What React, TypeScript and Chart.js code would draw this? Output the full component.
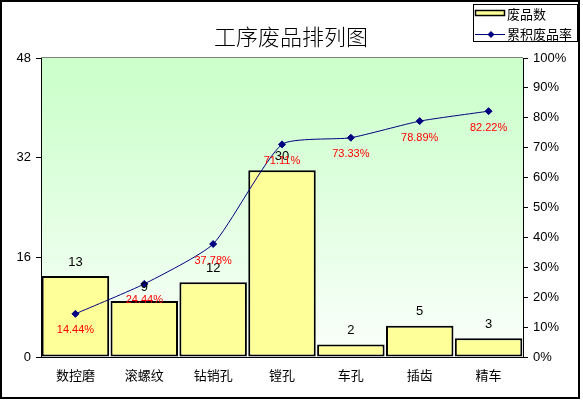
import React, { useEffect, useRef } from "react";
import { Chart, registerables } from "chart.js";

Chart.register(...registerables);

const titleText = "工序废品排列图";
const categories = ["数控磨", "滚螺纹", "钻销孔", "镗孔", "车孔", "插齿", "精车"];
const defectCounts = [13, 9, 12, 30, 2, 5, 3];
const cumulativePct = [14.44, 24.44, 37.78, 71.11, 73.33, 78.89, 82.22];
const leftAxisMax = 48;
const leftAxisStep = 16;
const rightAxisMax = 100;
const rightAxisStep = 10;
const legendLabels = ["废品数", "累积废品率"];

const CJK = '"Noto Sans CJK SC", "Noto Sans", sans-serif';
const LAT = '"Liberation Sans", Arial, sans-serif';

const decorPlugin = {
  id: "decor",
  beforeDraw(chart: any) {
    const { ctx, chartArea: a, width, height } = chart;
    ctx.save();
    ctx.fillStyle = "#ffffff";
    ctx.fillRect(0, 0, width, height);
    const g = ctx.createLinearGradient(0, a.top, 0, a.bottom);
    g.addColorStop(0, "#ccffcc");
    g.addColorStop(0.08, "#ccffcc");
    g.addColorStop(1, "#fbfffb");
    ctx.fillStyle = g;
    ctx.fillRect(a.left, a.top, a.right - a.left, a.bottom - a.top);
    ctx.strokeStyle = "#808080";
    ctx.lineWidth = 1;
    ctx.beginPath();
    ctx.moveTo(a.left, a.top - 0.5);
    ctx.lineTo(a.right, a.top - 0.5);
    ctx.stroke();
    ctx.restore();
  },
  afterDatasetsDraw(chart: any) {
    const { ctx } = chart;
    ctx.save();
    ctx.textAlign = "center";
    ctx.textBaseline = "middle";
    ctx.fillStyle = "#000000";
    ctx.font = `13px ${LAT}`;
    chart.getDatasetMeta(0).data.forEach((el: any, i: number) => {
      ctx.fillText(String(defectCounts[i]), el.x, el.y - 14);
    });
    ctx.fillStyle = "#ff0000";
    ctx.font = `11px ${LAT}`;
    chart.getDatasetMeta(1).data.forEach((el: any, i: number) => {
      ctx.fillText(cumulativePct[i].toFixed(2) + "%", el.x, el.y + 16.5);
    });
    ctx.restore();
  },
  afterDraw(chart: any) {
    const { ctx } = chart;
    ctx.save();
    // title
    ctx.fillStyle = "#000000";
    ctx.font = `300 22px ${CJK}`;
    ctx.textAlign = "center";
    ctx.textBaseline = "middle";
    ctx.fillText(titleText, 291, 37);
    // legend
    ctx.fillStyle = "#ffffff";
    ctx.fillRect(473, 4, 105, 38);
    ctx.strokeStyle = "#000000";
    ctx.lineWidth = 1;
    ctx.strokeRect(473.5, 4.5, 104, 37);
    ctx.fillStyle = "#ffff99";
    ctx.fillRect(475, 10, 30, 6);
    ctx.lineWidth = 1.5;
    ctx.strokeRect(475.5, 10.5, 29, 5);
    ctx.strokeStyle = "#000080";
    ctx.lineWidth = 1;
    ctx.beginPath();
    ctx.moveTo(475, 34.5);
    ctx.lineTo(505, 34.5);
    ctx.stroke();
    ctx.fillStyle = "#000080";
    ctx.beginPath();
    ctx.moveTo(491, 31);
    ctx.lineTo(494.5, 34.5);
    ctx.lineTo(491, 38);
    ctx.lineTo(487.5, 34.5);
    ctx.closePath();
    ctx.fill();
    ctx.fillStyle = "#000000";
    ctx.font = `13px ${CJK}`;
    ctx.textAlign = "left";
    ctx.fillText(legendLabels[0], 507, 14.5);
    ctx.fillText(legendLabels[1], 507, 34);
    // outer border
    ctx.strokeStyle = "#000000";
    ctx.lineWidth = 2;
    ctx.strokeRect(1, 1, 578, 397);
    ctx.restore();
  },
};

export default function App() {
  const ref = useRef<HTMLCanvasElement>(null);
  useEffect(() => {
    const chart = new Chart(ref.current as HTMLCanvasElement, {
      type: "bar",
      data: {
        labels: categories,
        datasets: [
          {
            type: "bar",
            label: legendLabels[0],
            data: defectCounts,
            yAxisID: "y",
            backgroundColor: "#ffff99",
            borderColor: "#000000",
            borderWidth: 2,
            borderSkipped: false,
            barPercentage: 0.98,
            categoryPercentage: 1,
            order: 1,
          },
          {
            type: "line",
            label: legendLabels[1],
            data: cumulativePct,
            yAxisID: "y1",
            borderColor: "#000080",
            borderWidth: 1,
            backgroundColor: "#000080",
            pointStyle: "rectRot",
            pointRadius: 3.5,
            pointBackgroundColor: "#000080",
            pointBorderColor: "#000080",
            tension: 0.18,
            fill: false,
            order: 0,
          },
        ],
      } as any,
      options: {
        animation: false,
        responsive: false,
        devicePixelRatio: 1,
        layout: { padding: { top: 58, left: 0, right: 0, bottom: 0 } },
        plugins: {
          legend: { display: false },
          title: { display: false },
          tooltip: { enabled: false },
        },
        scales: {
          x: {
            type: "category",
            grid: { display: false, drawTicks: false, tickLength: 0 },
            border: { display: true, color: "#000000", width: 1 },
            ticks: {
              color: "#000000",
              font: { family: CJK, size: 13 },
              padding: 10,
              maxRotation: 0,
              autoSkip: false,
            },
            afterFit: (s: any) => {
              s.height = 44;
            },
          },
          y: {
            position: "left",
            min: 0,
            max: leftAxisMax,
            grid: { drawOnChartArea: false, tickLength: 5, tickColor: "#000000", color: "#000000" },
            border: { display: true, color: "#000000", width: 1 },
            ticks: {
              stepSize: leftAxisStep,
              color: "#000000",
              font: { family: LAT, size: 13 },
              padding: 5,
            },
            afterFit: (s: any) => {
              s.width = 41;
            },
          },
          y1: {
            position: "right",
            min: 0,
            max: rightAxisMax,
            grid: { drawOnChartArea: false, tickLength: 5, tickColor: "#000000", color: "#000000" },
            border: { display: true, color: "#000000", width: 1 },
            ticks: {
              stepSize: rightAxisStep,
              color: "#000000",
              font: { family: LAT, size: 13 },
              padding: 5,
              callback: (v: any) => v + "%",
            },
            afterFit: (s: any) => {
              s.width = 60;
            },
          },
        },
      } as any,
      plugins: [decorPlugin],
    });
    return () => chart.destroy();
  }, []);
  return (
    <div style={{ position: "absolute", left: 0, top: 0, width: 583, height: 401, background: "#ffffff" }}>
      <canvas ref={ref} width={583} height={401} style={{ display: "block", width: 583, height: 401 }} />
    </div>
  );
}
